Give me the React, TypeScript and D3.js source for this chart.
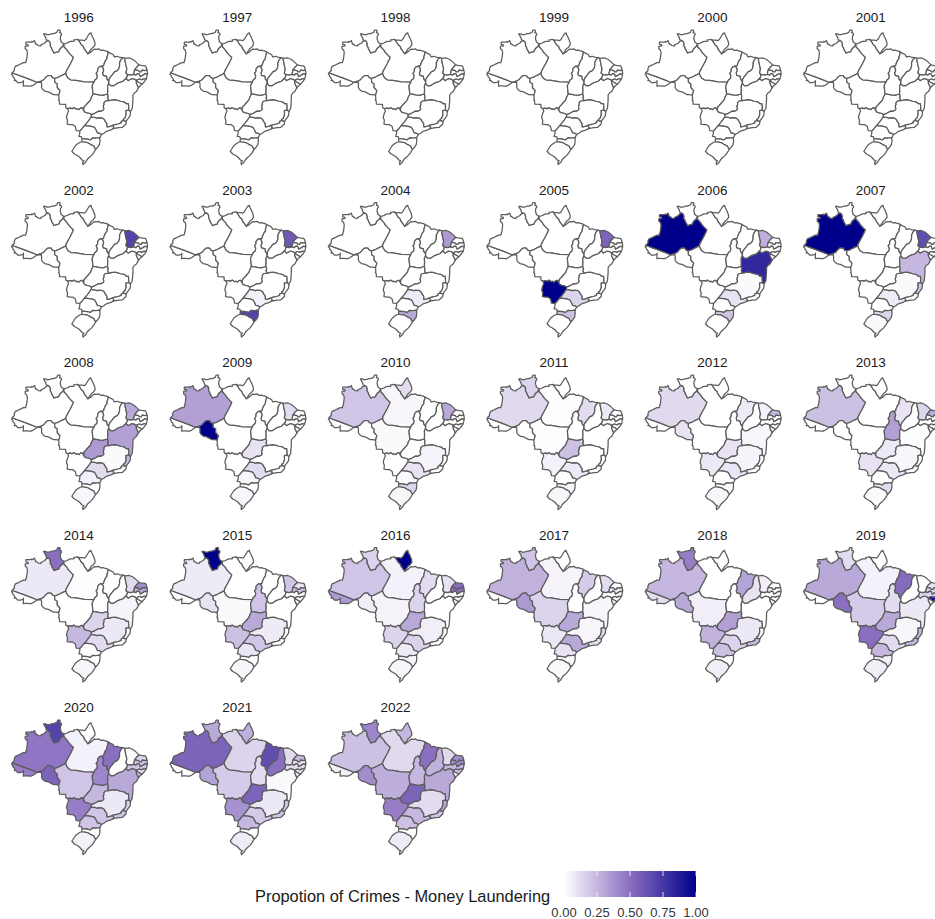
import * as d3 from 'd3'

const WIDTH = 935
const HEIGHT = 919

// Borders as lon/lat arcs shared by neighbouring states.
const arcs: Record<string, [number, number][]> = {
  ac_am: [[-73.8, -7.12], [-72.2, -7.75], [-70.4, -8.4], [-68.5, -9.15], [-66.62, -9.9]],
  ac_w: [[-73.8, -7.12], [-73.7, -7.35], [-74.0, -7.55], [-73.65, -7.9], [-73.6, -8.3], [-73.35, -8.5], [-73.0, -9.05], [-73.2, -9.4], [-72.7, -9.45], [-72.2, -10.0], [-71.4, -10.0], [-70.65, -9.75], [-70.55, -9.45], [-70.6, -11.0], [-69.95, -10.95], [-69.55, -10.95], [-68.75, -11.0], [-68.3, -11.0], [-67.7, -10.7], [-67.15, -10.3], [-66.62, -9.9]],
  am_w: [[-73.8, -7.12], [-73.15, -6.5], [-73.2, -6.0], [-72.9, -5.3], [-72.0, -4.9], [-71.0, -4.4], [-70.6, -4.2], [-69.95, -4.23], [-69.6, -3.0], [-69.4, -1.3], [-69.6, -0.5], [-70.05, -0.15], [-70.05, 0.55], [-69.15, 0.65], [-69.3, 1.05], [-69.85, 1.1], [-69.85, 1.72], [-68.2, 1.72], [-68.15, 1.98], [-67.9, 1.75], [-67.35, 2.2], [-67.05, 1.2], [-66.85, 1.22], [-66.3, 0.75], [-65.55, 0.7], [-65.5, 0.95], [-65.1, 1.12], [-64.4, 1.5], [-64.05, 1.95], [-63.4, 2.2]],
  rr_n: [[-63.4, 2.2], [-64.0, 2.45], [-64.1, 3.0], [-64.75, 4.15], [-64.15, 4.15], [-63.9, 3.95], [-63.2, 3.9], [-62.75, 4.05], [-62.45, 4.2], [-61.85, 4.2], [-61.3, 4.45], [-60.95, 4.55], [-60.7, 5.2], [-60.1, 5.27], [-59.95, 5.05], [-60.15, 4.5], [-59.65, 4.3], [-59.55, 3.95], [-59.85, 3.55], [-59.95, 2.65], [-59.75, 2.25], [-59.75, 1.85], [-59.3, 1.5], [-58.9, 1.25]],
  rr_am: [[-63.4, 2.2], [-63.0, 1.95], [-62.75, 1.2], [-62.85, 0.7], [-62.5, 0.2], [-62.4, -0.2], [-62.0, -0.9], [-61.75, -1.4], [-61.1, -1.15], [-60.4, -1.0], [-60.15, -0.4], [-59.9, 0.0], [-59.3, 0.5], [-58.9, 1.25]],
  am_pa: [[-58.9, 1.25], [-58.85, 0.4], [-58.0, -0.5], [-57.6, -1.2], [-57.2, -1.6], [-56.75, -2.1], [-56.15, -2.6], [-56.4, -3.3], [-57.0, -4.5], [-57.6, -5.6], [-58.1, -6.5], [-58.4, -7.35]],
  am_mt: [[-58.4, -7.35], [-59.6, -7.95], [-60.6, -8.5], [-61.55, -8.8]],
  am_ro: [[-61.55, -8.8], [-62.2, -8.55], [-62.6, -8.0], [-63.55, -7.97], [-64.0, -8.35], [-64.8, -9.25], [-65.45, -9.55], [-66.62, -9.9]],
  ro_bo: [[-60.4, -13.6], [-61.2, -13.5], [-61.85, -13.5], [-62.7, -13.05], [-63.4, -12.65], [-64.4, -12.45], [-65.0, -12.0], [-65.35, -11.4], [-65.3, -10.8], [-65.4, -9.9], [-66.0, -9.85], [-66.62, -9.9]],
  ro_mt: [[-61.55, -8.8], [-61.5, -9.9], [-60.8, -10.3], [-60.8, -11.4], [-60.0, -12.3], [-60.3, -13.4], [-60.4, -13.6]],
  mt_bo: [[-60.4, -13.6], [-60.3, -14.6], [-60.45, -15.1], [-60.2, -15.2], [-60.15, -16.25], [-58.4, -16.3], [-58.35, -17.25], [-57.8, -17.55]],
  mt_ms: [[-57.8, -17.55], [-57.0, -17.4], [-56.5, -17.6], [-56.0, -17.25], [-55.5, -17.65], [-55.0, -17.6], [-54.5, -17.85], [-54.1, -17.4], [-53.6, -17.3], [-53.25, -18.0]],
  mt_go: [[-53.25, -18.0], [-53.0, -17.0], [-52.6, -16.6], [-52.0, -15.9], [-51.2, -15.0], [-50.9, -14.1], [-50.6, -13.6], [-50.5, -13.25]],
  mt_to: [[-50.5, -13.25], [-50.65, -11.9], [-50.75, -10.9], [-50.2, -9.84]],
  mt_pa: [[-50.2, -9.84], [-53.0, -9.75], [-55.5, -9.35], [-56.9, -9.25], [-57.7, -8.7], [-58.1, -8.1], [-58.4, -7.35]],
  pa_n: [[-58.9, 1.25], [-58.5, 1.3], [-58.0, 1.5], [-57.5, 1.75], [-57.0, 2.0], [-56.4, 1.95], [-55.95, 2.05], [-56.05, 2.4], [-55.5, 2.45], [-55.0, 2.55], [-54.85, 2.45]],
  ap_pa: [[-54.85, 2.45], [-54.3, 1.7], [-53.9, 1.0], [-53.3, 0.5], [-53.0, -0.3], [-52.6, -0.8], [-52.0, -1.7]],
  ap_coast: [[-54.85, 2.45], [-54.2, 2.3], [-53.6, 2.3], [-52.95, 2.2], [-52.55, 2.6], [-51.95, 3.6], [-51.6, 4.15], [-51.1, 4.45], [-50.95, 3.9], [-50.5, 3.0], [-50.0, 1.8], [-49.9, 1.0], [-50.4, 0.3], [-51.0, -0.2], [-51.5, -0.9], [-52.0, -1.7]],
  pa_coast: [[-52.0, -1.7], [-51.0, -1.0], [-50.2, -0.3], [-49.5, -0.35], [-48.9, -0.2], [-48.2, -0.65], [-47.6, -0.55], [-47.2, -0.7], [-46.6, -0.85], [-46.1, -1.1]],
  pa_ma: [[-46.1, -1.1], [-46.25, -1.9], [-46.45, -2.5], [-46.45, -3.0], [-46.9, -3.6], [-47.3, -4.5], [-47.45, -5.15], [-48.3, -5.25]],
  pa_to: [[-48.3, -5.25], [-48.75, -5.5], [-49.15, -6.0], [-49.2, -6.8], [-49.6, -7.3], [-49.25, -8.0], [-49.4, -8.8], [-50.0, -9.3], [-50.2, -9.84]],
  to_ma: [[-48.3, -5.25], [-47.7, -5.6], [-47.45, -6.4], [-47.75, -7.2], [-47.6, -7.9], [-46.6, -8.2], [-46.5, -9.0], [-46.0, -9.6], [-45.95, -10.2]],
  ma_pi: [[-41.85, -2.75], [-42.5, -3.4], [-42.85, -4.2], [-42.85, -5.2], [-43.1, -6.0], [-43.6, -6.6], [-44.3, -6.9], [-44.9, -7.7], [-45.5, -8.4], [-45.9, -9.1], [-45.95, -10.2]],
  ma_coast: [[-46.1, -1.1], [-45.4, -1.5], [-44.7, -1.85], [-44.4, -2.5], [-43.5, -2.35], [-42.7, -2.7], [-41.85, -2.75]],
  to_ba: [[-45.95, -10.2], [-46.3, -11.0], [-46.25, -12.0], [-46.3, -13.3]],
  to_go: [[-50.5, -13.25], [-49.6, -13.4], [-48.6, -13.65], [-47.6, -13.7], [-46.3, -13.3]],
  go_ba: [[-46.3, -13.3], [-46.1, -13.9], [-46.25, -14.5], [-45.95, -15.2]],
  go_mg: [[-45.95, -15.2], [-47.0, -15.4], [-47.35, -15.9], [-47.3, -16.3], [-47.55, -16.9], [-47.35, -17.6], [-47.6, -18.0], [-48.3, -18.35], [-48.8, -18.25], [-49.3, -18.5], [-50.0, -18.9], [-50.95, -19.3]],
  go_ms: [[-50.95, -19.3], [-51.5, -18.95], [-52.3, -18.75], [-52.9, -18.55], [-53.25, -18.0]],
  ms_mg: [[-50.95, -19.3], [-51.0, -19.9]],
  ms_sp: [[-51.0, -19.9], [-51.6, -20.8], [-52.2, -21.6], [-53.0, -22.55]],
  ms_pr: [[-53.0, -22.55], [-53.6, -23.3], [-54.25, -24.0]],
  ms_py: [[-54.25, -24.0], [-55.35, -23.95], [-55.6, -22.7], [-56.3, -22.2], [-57.0, -22.2], [-57.95, -22.05], [-57.85, -20.9], [-58.15, -20.1], [-57.9, -19.0], [-57.55, -18.2], [-57.8, -17.55]],
  sp_mg: [[-51.0, -19.9], [-50.0, -20.05], [-49.4, -20.3], [-48.9, -20.15], [-47.9, -20.2], [-47.3, -20.6], [-46.9, -21.3], [-46.5, -21.9], [-46.45, -22.8], [-45.7, -22.7], [-44.85, -22.4]],
  sp_rj: [[-44.85, -22.4], [-44.5, -22.95], [-44.7, -23.35]],
  sp_coast: [[-44.7, -23.35], [-45.5, -23.8], [-46.5, -24.05], [-47.4, -24.7], [-48.05, -25.05]],
  sp_pr: [[-48.05, -25.05], [-48.55, -24.75], [-49.25, -24.6], [-49.6, -23.8], [-50.1, -22.95], [-51.0, -22.7], [-52.2, -22.55], [-53.0, -22.55]],
  pr_coast: [[-48.05, -25.05], [-48.55, -25.95]],
  pr_sc: [[-48.55, -25.95], [-49.2, -26.05], [-49.9, -26.1], [-50.6, -26.05], [-51.3, -26.65], [-52.1, -26.4], [-53.0, -26.3], [-53.65, -26.25]],
  pr_w: [[-53.65, -26.25], [-53.85, -25.65], [-54.6, -25.6], [-54.35, -24.9], [-54.3, -24.2], [-54.25, -24.0]],
  sc_coast: [[-48.55, -25.95], [-48.5, -27.0], [-48.65, -28.0], [-49.2, -28.8], [-49.72, -29.32]],
  sc_rs: [[-49.72, -29.32], [-50.0, -29.0], [-50.3, -28.4], [-51.3, -27.9], [-51.9, -27.5], [-52.6, -27.3], [-53.7, -27.15]],
  sc_w: [[-53.7, -27.15], [-53.75, -26.7], [-53.65, -26.25]],
  rs_coast: [[-49.72, -29.32], [-50.3, -30.3], [-50.9, -31.1], [-51.7, -31.8], [-52.2, -32.3], [-52.7, -33.2], [-53.4, -33.75]],
  rs_s: [[-53.4, -33.75], [-53.5, -33.1], [-53.1, -32.7], [-53.65, -32.45], [-54.5, -31.5], [-55.3, -31.0], [-55.9, -30.7], [-56.6, -29.9], [-56.1, -29.1], [-55.6, -28.3], [-55.0, -27.8], [-54.2, -27.3], [-53.7, -27.15]],
  mg_ba: [[-45.95, -15.2], [-45.0, -15.0], [-44.2, -14.9], [-43.5, -15.1], [-42.5, -15.4], [-41.8, -15.5], [-41.3, -15.7], [-40.95, -16.1], [-40.3, -16.1], [-40.2, -17.2], [-40.2, -17.95]],
  mg_es: [[-40.2, -17.95], [-41.0, -18.1], [-40.95, -19.3], [-41.3, -20.3], [-41.8, -20.7], [-41.7, -21.0]],
  mg_rj: [[-41.7, -21.0], [-42.35, -21.2], [-42.35, -21.7], [-43.2, -22.0], [-44.1, -22.2], [-44.85, -22.4]],
  ba_coast: [[-37.4, -11.5], [-38.0, -12.6], [-38.6, -13.0], [-39.0, -13.6], [-39.0, -15.0], [-39.1, -16.3], [-39.2, -17.5], [-39.7, -18.35]],
  ba_es: [[-39.7, -18.35], [-40.2, -17.95]],
  es_coast: [[-39.7, -18.35], [-39.8, -19.6], [-40.3, -20.3], [-40.75, -20.9], [-40.95, -21.3]],
  es_rj: [[-40.95, -21.3], [-41.7, -21.0]],
  rj_coast: [[-40.95, -21.3], [-41.0, -22.0], [-42.0, -22.95], [-43.1, -23.05], [-44.7, -23.35]],
  pi_ba: [[-45.95, -10.2], [-45.4, -10.9], [-44.6, -10.9], [-43.7, -10.3], [-42.9, -9.9], [-41.9, -9.6], [-41.0, -8.75]],
  ba_pe: [[-41.0, -8.75], [-40.35, -9.4], [-39.3, -8.8], [-38.55, -8.95], [-38.0, -9.35]],
  ba_se: [[-38.0, -9.35], [-38.0, -10.2], [-37.6, -11.0], [-37.4, -11.5]],
  al_se: [[-38.0, -9.35], [-37.6, -9.8], [-37.0, -10.1], [-36.4, -10.5]],
  pi_pe: [[-41.0, -8.75], [-40.7, -8.4], [-40.55, -7.65]],
  pi_ce: [[-40.55, -7.65], [-41.0, -7.2], [-40.75, -6.0], [-41.0, -5.0], [-41.2, -4.0], [-41.35, -3.2], [-41.3, -2.95]],
  pi_coast: [[-41.3, -2.95], [-41.85, -2.75]],
  ce_coast: [[-41.3, -2.95], [-40.0, -2.85], [-39.0, -3.3], [-38.45, -3.7], [-37.25, -4.85]],
  ce_rn: [[-37.25, -4.85], [-37.85, -5.45], [-38.3, -6.0], [-38.5, -6.3]],
  ce_pb: [[-38.5, -6.3], [-38.7, -7.1], [-38.7, -7.6]],
  ce_pe: [[-38.7, -7.6], [-39.6, -7.85], [-40.55, -7.65]],
  rn_coast: [[-37.25, -4.85], [-36.2, -5.1], [-35.4, -5.15], [-35.15, -5.6], [-34.95, -6.4]],
  rn_pb: [[-34.95, -6.4], [-35.6, -6.5], [-36.3, -6.35], [-36.55, -6.85], [-37.15, -6.85], [-37.4, -6.5], [-38.5, -6.3]],
  pb_coast: [[-34.95, -6.4], [-34.8, -7.15], [-34.85, -7.55]],
  pb_pe: [[-34.85, -7.55], [-35.5, -7.45], [-36.2, -7.9], [-36.9, -8.3], [-37.2, -7.45], [-37.7, -7.4], [-38.2, -7.85], [-38.7, -7.6]],
  pe_coast: [[-34.85, -7.55], [-34.95, -8.2], [-35.15, -8.9]],
  pe_al: [[-35.15, -8.9], [-35.9, -8.9], [-36.5, -9.2], [-37.2, -8.95], [-38.0, -9.35]],
  al_coast: [[-35.15, -8.9], [-35.6, -9.6], [-36.4, -10.5]],
  se_coast: [[-36.4, -10.5], [-37.0, -11.0], [-37.4, -11.5]],
}

// '-' in front of an arc name walks it backwards
const stateRings: Record<string, string[]> = {
  AC: ['ac_am', '-ac_w'],
  AM: ['am_w', 'rr_am', 'am_pa', 'am_mt', 'am_ro', '-ac_am'],
  RR: ['rr_n', '-rr_am'],
  RO: ['-am_ro', 'ro_mt', 'ro_bo'],
  AP: ['ap_coast', '-ap_pa'],
  PA: ['pa_n', 'ap_pa', 'pa_coast', 'pa_ma', 'pa_to', 'mt_pa', '-am_pa'],
  MT: ['-am_mt', '-mt_pa', '-mt_to', '-mt_go', '-mt_ms', '-mt_bo', '-ro_mt'],
  MA: ['ma_coast', 'ma_pi', '-to_ma', '-pa_ma'],
  TO: ['to_ma', 'to_ba', '-to_go', 'mt_to', '-pa_to'],
  GO: ['to_go', 'go_ba', 'go_mg', 'go_ms', 'mt_go'],
  MS: ['mt_ms', '-go_ms', 'ms_mg', 'ms_sp', 'ms_pr', 'ms_py'],
  SP: ['-ms_sp', 'sp_mg', 'sp_rj', 'sp_coast', 'sp_pr'],
  PR: ['-sp_pr', 'pr_coast', 'pr_sc', 'pr_w', '-ms_pr'],
  SC: ['sc_coast', 'sc_rs', 'sc_w', '-pr_sc'],
  RS: ['rs_coast', 'rs_s', '-sc_rs'],
  MG: ['mg_ba', 'mg_es', 'mg_rj', '-sp_mg', '-ms_mg', '-go_mg'],
  ES: ['es_coast', 'es_rj', '-mg_es', '-ba_es'],
  RJ: ['rj_coast', '-sp_rj', '-mg_rj', '-es_rj'],
  BA: ['ba_coast', 'ba_es', '-mg_ba', '-go_ba', '-to_ba', 'pi_ba', 'ba_pe', 'ba_se'],
  PI: ['ma_pi', 'pi_ba', 'pi_pe', 'pi_ce', 'pi_coast'],
  CE: ['ce_coast', 'ce_rn', 'ce_pb', 'ce_pe', 'pi_ce'],
  RN: ['rn_coast', 'rn_pb', '-ce_rn'],
  PB: ['pb_coast', 'pb_pe', '-ce_pb', '-rn_pb'],
  PE: ['pe_coast', 'pe_al', '-ba_pe', 'pi_pe', '-ce_pe', '-pb_pe'],
  AL: ['al_coast', '-al_se', '-pe_al'],
  SE: ['se_coast', '-ba_se', 'al_se'],
}

const years = d3.range(1996, 2023)

// proportion of crimes per state, states left out are 0
const share2002 = { CE: 0.7 }
const share2003 = { CE: 0.6, SP: 0.05, SC: 0.7 }
const share2004 = { CE: 0.35, SP: 0.07, SC: 0.3 }
const share2005 = { CE: 0.55, MS: 1, SP: 0.15, SC: 0.22 }
const share2006 = { AM: 1, CE: 0.28, BA: 0.82, MG: 0.02, SP: 0.1, SC: 0.2 }
const share2007 = { AM: 1, CE: 0.65, BA: 0.25, MG: 0.02, ES: 0.2, SP: 0.07, SC: 0.15, RS: 0.02 }
const share2008 = { CE: 0.3, BA: 0.33, GO: 0.35, ES: 0.25, SP: 0.12, MG: 0.02, PR: 0.05, RS: 0.03 }
const share2009 = { AM: 0.33, RO: 1, CE: 0.12, GO: 0.1, SP: 0.12, PR: 0.03, RS: 0.03 }
const share2010 = { AM: 0.2, PA: 0.03, AP: 0.12, CE: 0.3, MT: 0.02, MG: 0.04, SP: 0.1, SC: 0.15, PR: 0.02, RS: 0.03 }
const share2011 = { AM: 0.13, RR: 0.15, PA: 0.01, MA: 0.12, CE: 0.08, GO: 0.22, MS: 0.05, SP: 0.08, RS: 0.03, SC: 0.03, MT: 0.01 }
const share2012 = { AM: 0.13, RO: 0.1, MA: 0.07, CE: 0.05, RN: 0.25, GO: 0.1, BA: 0.03, MG: 0.04, MS: 0.08, SP: 0.09, SC: 0.02, RS: 0.03 }
const share2013 = { AM: 0.22, TO: 0.33, MA: 0.1, CE: 0.15, RN: 0.3, GO: 0.08, MG: 0.03, MS: 0.1, SP: 0.08, SC: 0.12, RS: 0.02, BA: 0.01 }
const share2014 = { RR: 0.5, AM: 0.08, PA: 0.01, CE: 0.13, RN: 0.4, PB: 0.3, GO: 0.15, MS: 0.25, MG: 0.08, BA: 0.04, SP: 0.12, RS: 0.03, PR: 0.01 }
const share2015 = { RR: 1, AM: 0.07, RO: 0.1, MT: 0.02, TO: 0.2, GO: 0.3, MS: 0.22, CE: 0.2, RN: 0.1, PB: 0.2, SP: 0.2, MG: 0.07, PR: 0.09, RS: 0.03 }
const share2016 = { AP: 1, RR: 0.15, AM: 0.2, AC: 0.35, RO: 0.06, PA: 0.05, MT: 0.04, MA: 0.12, TO: 0.15, GO: 0.3, MS: 0.15, SP: 0.16, MG: 0.06, PR: 0.07, CE: 0.1, RN: 0.5, PB: 0.5, SC: 0.03, RS: 0.03 }
const share2017 = { RR: 0.2, AM: 0.27, RO: 0.35, PA: 0.04, MT: 0.15, MA: 0.18, CE: 0.12, GO: 0.3, BA: 0.03, MS: 0.08, SP: 0.3, MG: 0.03, PR: 0.1, RJ: 0.1, ES: 0.12, RS: 0.02, SC: 0.02, PB: 0.08 }
const share2018 = { RR: 0.45, AM: 0.25, AC: 0.12, RO: 0.3, MT: 0.06, MA: 0.32, PI: 0.1, CE: 0.06, GO: 0.33, MS: 0.27, SP: 0.15, MG: 0.08, PR: 0.22, RS: 0.06, RJ: 0.25 }
const share2019 = { RR: 0.12, AM: 0.3, RO: 0.5, PA: 0.05, MT: 0.18, TO: 0.12, MA: 0.52, CE: 0.01, RN: 0.1, PB: 0.15, PE: 0.15, AL: 0.9, BA: 0.08, GO: 0.3, MS: 0.5, MG: 0.03, SP: 0.12, ES: 0.25, RJ: 0.25, PR: 0.25, SC: 0.05, RS: 0.06 }
const share2020 = { RR: 0.7, AM: 0.48, AC: 0.45, RO: 0.55, PA: 0.05, MT: 0.2, TO: 0.42, MA: 0.5, CE: 0.02, RN: 0.15, PB: 0.2, PE: 0.2, AL: 0.1, SE: 0.25, BA: 0.3, GO: 0.25, MS: 0.45, MG: 0.08, SP: 0.2, ES: 0.15, RJ: 0.2, PR: 0.2, SC: 0.02, RS: 0.05 }
const share2021 = { RR: 0.3, AM: 0.55, RO: 0.32, PA: 0.15, AP: 0.28, MT: 0.18, TO: 0.12, MA: 0.65, PI: 0.5, CE: 0.12, RN: 0.25, PB: 0.1, PE: 0.12, AL: 0.1, SE: 0.05, BA: 0.02, GO: 0.55, MS: 0.38, MG: 0.08, SP: 0.18, ES: 0.2, RJ: 0.2, PR: 0.25, RS: 0.07 }
const share2022 = { RR: 0.42, AM: 0.22, AC: 0.05, RO: 0.4, PA: 0.13, AP: 0.25, MT: 0.28, TO: 0.25, MA: 0.5, PI: 0.27, CE: 0.13, RN: 0.4, PB: 0.4, PE: 0.25, AL: 0.2, SE: 0.05, BA: 0.3, GO: 0.55, MS: 0.45, MG: 0.12, SP: 0.25, ES: 0.3, RJ: 0.2, PR: 0.22, RS: 0.07 }

const sharesByYear: Record<number, Record<string, number>> = {
  2002: share2002, 2003: share2003, 2004: share2004, 2005: share2005, 2006: share2006,
  2007: share2007, 2008: share2008, 2009: share2009, 2010: share2010, 2011: share2011,
  2012: share2012, 2013: share2013, 2014: share2014, 2015: share2015, 2016: share2016,
  2017: share2017, 2018: share2018, 2019: share2019, 2020: share2020, 2021: share2021,
  2022: share2022,
}

const legendTicks = [0, 0.25, 0.5, 0.75, 1]
const legendStops = [0, 0.25, 0.5, 0.75, 1]

const FONT = '"Liberation Sans", Arial, sans-serif'
const COLS = 6
const COL_STEP = 158.4
const ROW_STEP = 172.5

const color = d3
  .scaleLinear<string>()
  .domain([0, 0.5, 1])
  .range(['#ffffff', '#8a6fc0', '#00008b'])
  .interpolate(d3.interpolateRgb)

function ringCoords(names: string[]) {
  const ring: [number, number][] = []
  names.forEach((name) => {
    const rev = name.startsWith('-')
    const arc = arcs[rev ? name.slice(1) : name]
    const pts = rev ? [...arc].reverse() : arc
    ring.push(...(ring.length ? pts.slice(1) : pts))
  })
  return ring
}

const states = Object.keys(stateRings).map((id) => ({
  type: 'Feature' as const,
  id,
  properties: {},
  geometry: { type: 'Polygon' as const, coordinates: [ringCoords(stateRings[id])] },
}))

// lon/lat to pixels inside one panel
const lonScale = d3.scaleLinear().domain([-74, -34.8]).range([11.5, 147.5])
const latScale = d3.scaleLinear().domain([5.27, -33.75]).range([30, 164.5])
const projection = d3.geoTransform({
  point(lon: number, lat: number) {
    ;(this as any).stream.point(lonScale(lon), latScale(lat))
  },
})
const path = d3.geoPath(projection)

const legendX = d3.scaleLinear().domain([0, 1]).range([564, 696])

export default function App() {
  return (
    <svg
      width={WIDTH}
      height={HEIGHT}
      viewBox={`0 0 ${WIDTH} ${HEIGHT}`}
      style={{ position: 'absolute', left: 0, top: 0, background: '#fff' }}
      fontFamily={FONT}
    >
      <defs>
        <linearGradient id="legend-ramp" x1="0" x2="1" y1="0" y2="0">
          {legendStops.map((s) => (
            <stop key={s} offset={`${s * 100}%`} stopColor={color(s)} />
          ))}
        </linearGradient>
      </defs>

      {years.map((year, i) => {
        const col = i % COLS
        const row = Math.floor(i / COLS)
        const shares = sharesByYear[year] ?? {}
        return (
          <g key={year} transform={`translate(${col * COL_STEP},${row * ROW_STEP})`}>
            <text x={78.8} y={22} textAnchor="middle" fontSize={13.5} fill="#1a1a1a">
              {year}
            </text>
            {states.map((s) => (
              <path
                key={s.id}
                d={path(s as any) ?? ''}
                fill={color(shares[s.id] ?? 0)}
                stroke="#5c5c5c"
                strokeWidth={1.25}
                strokeLinejoin="round"
              />
            ))}
          </g>
        )
      })}

      <text x={255} y={901.5} fontSize={16.4} fill="#1a1a1a">
        Propotion of Crimes - Money Laundering
      </text>
      <rect x={legendX(0)} y={871} width={legendX(1) - legendX(0)} height={26} fill="url(#legend-ramp)" />
      {legendTicks.map((t) => (
        <g key={t}>
          <line x1={legendX(t)} x2={legendX(t)} y1={871} y2={876} stroke="#fff" strokeWidth={0.8} />
          <line x1={legendX(t)} x2={legendX(t)} y1={892} y2={897} stroke="#fff" strokeWidth={0.8} />
          <text x={legendX(t)} y={917} textAnchor="middle" fontSize={13} fill="#333333">
            {t.toFixed(2)}
          </text>
        </g>
      ))}
    </svg>
  )
}
